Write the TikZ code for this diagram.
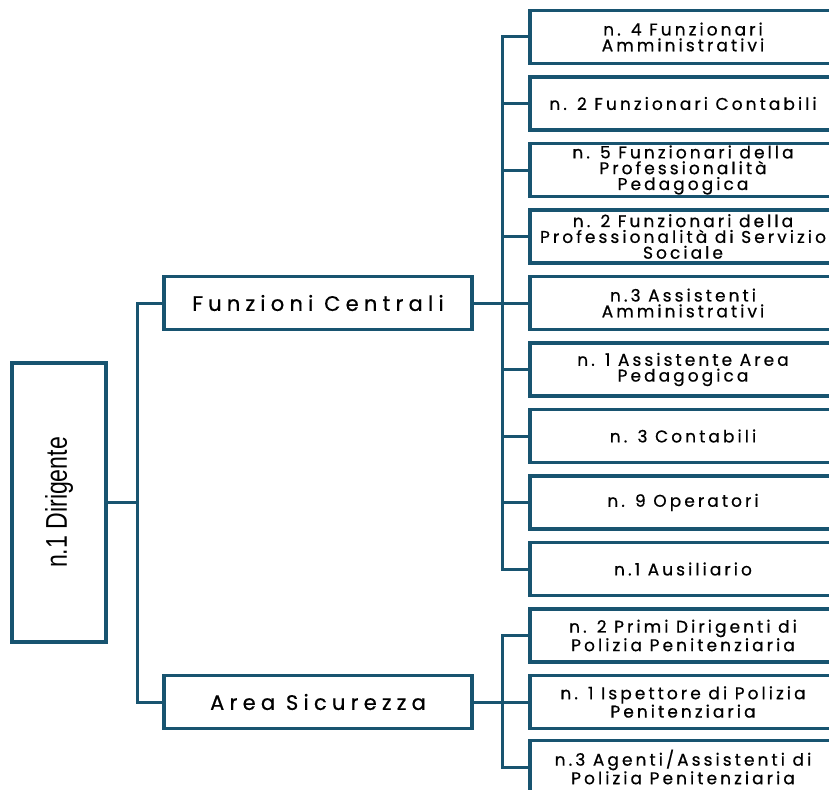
\documentclass[tikz,border=0pt]{standalone}
\usepackage{fontspec}
\setmainfont{Poppins}
\newfontfamily\narrowfont[FakeStretch=0.77]{Liberation Sans}
\newfontfamily\widefont[LetterSpace=25, FakeBold=0.6]{Poppins}
\newfontfamily\unitfont[LetterSpace=18, FakeBold=0.6]{Poppins}
\usetikzlibrary{positioning}
\definecolor{OrgBlue}{RGB}{24,84,112}
\tikzset{
  orgline/.style={draw=OrgBlue, line width=3pt},
  topbox/.style={draw=OrgBlue, line width=3.5pt, fill=white, minimum width=94pt, minimum height=279pt, font=\narrowfont\fontsize{30}{32}\selectfont},
  areabox/.style={draw=OrgBlue, line width=3.5pt, fill=white, minimum width=308pt, minimum height=53pt, font=\widefont\fontsize{21}{24}\selectfont},
  unitbox/.style={draw=OrgBlue, line width=3.5pt, fill=white, minimum width=306pt, minimum height=53pt, inner sep=1pt, align=center, font=\unitfont\fontsize{17}{15.8}\selectfont}
}
\begin{document}
\begin{tikzpicture}[x=1pt, y=-1pt]
  \useasboundingbox (0,0) rectangle (829,789);
  \clip (0,0) rectangle (829,789);
  \node[topbox] (dir) at (59,502.5) {\rotatebox{90}{n.1 Dirigente}};
  \node[areabox] (fc) at (318,303) {Funzioni Centrali};
  \node[areabox] (as) at (318,702) {Area Sicurezza};
  \foreach \name/\y/\txt in {
      r1/37/{n. 4 Funzionari\\Amministrativi},
      r2/103.5/{n. 2 Funzionari Contabili},
      r3/170/{n. 5 Funzionari della\\Professionalità\\Pedagogica},
      r4/236.5/{n. 2 Funzionari della\\Professionalità di Servizio\\Sociale},
      r5/303/{n.3 Assistenti\\Amministrativi},
      r6/369.5/{n. 1 Assistente Area\\Pedagogica},
      r7/436/{n. 3 Contabili},
      r8/502.5/{n. 9 Operatori},
      r9/569/{n.1 Ausiliario},
      r10/635.5/{n. 2 Primi Dirigenti di\\Polizia Penitenziaria},
      r11/702/{n. 1 Ispettore di Polizia\\Penitenziaria},
      r12/767/{n.3 Agenti/Assistenti di\\Polizia Penitenziaria}}
    \node[unitbox] (\name) at (683,\y) {\txt};
  \draw[orgline] (dir.east) -- ++(30,0) |- (fc.west);
  \draw[orgline] (dir.east) -- ++(30,0) |- (as.west);
  \foreach \i in {1,...,9}
    \draw[orgline] (fc.east) -- ++(29,0) |- (r\i.west);
  \foreach \i in {10,11,12}
    \draw[orgline] (as.east) -- ++(29,0) |- (r\i.west);
\end{tikzpicture}
\end{document}
